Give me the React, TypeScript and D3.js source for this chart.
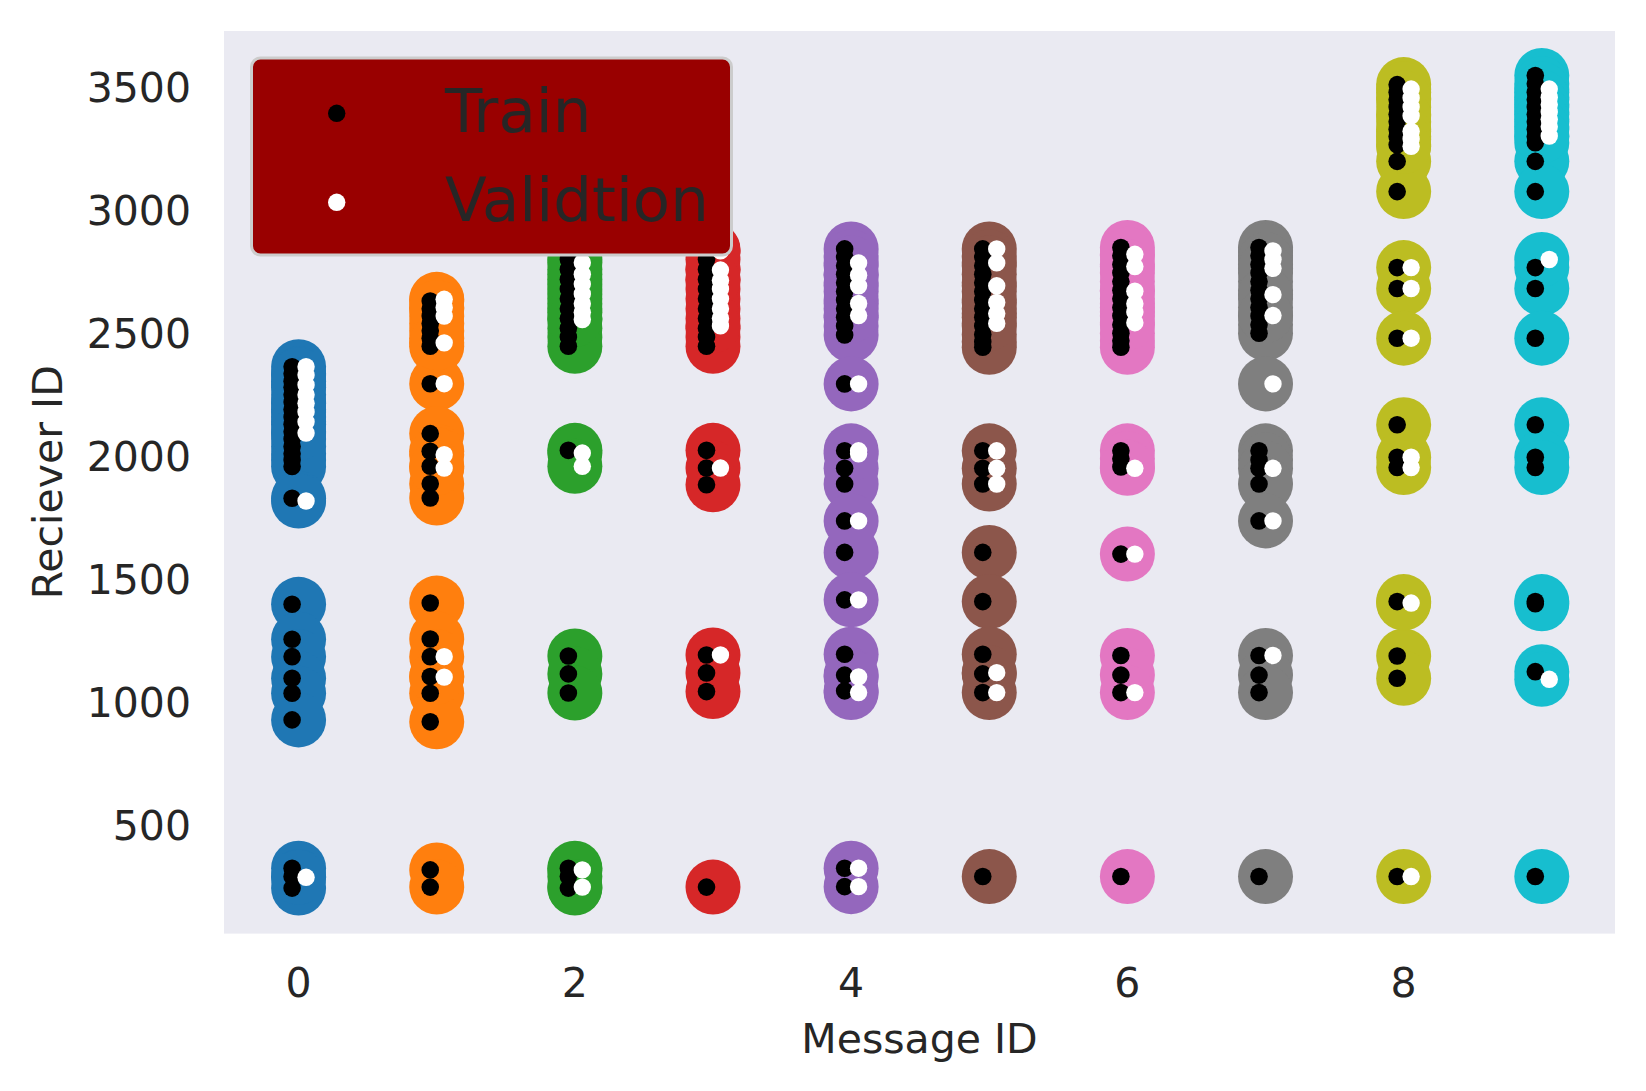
import { useEffect, useRef } from 'react';
import * as d3 from 'd3';

// Message IDs on the x axis, one colour each (matplotlib tab10)
const messageIds = [0, 1, 2, 3, 4, 5, 6, 7, 8, 9];
const colors = ['#1f77b4', '#ff7f0e', '#2ca02c', '#d62728', '#9467bd', '#8c564b', '#e377c2', '#7f7f7f', '#bcbd22', '#17becf'];
const xTicks = [0, 2, 4, 6, 8];
const yTicks = [500, 1000, 1500, 2000, 2500, 3000, 3500];

// Receiver IDs per message (train)
const train0 = [2364, 2335, 2305, 2280, 2250, 2220, 2190, 2160, 2130, 2100, 2070, 2040, 2010, 1985, 1958, 1829, 1398, 1256, 1185, 1097, 1036, 928, 325, 291, 244];
const train1 = [2631, 2600, 2570, 2540, 2510, 2480, 2447, 2295, 2092, 2020, 1959, 1888, 1830, 1403, 1257, 1185, 1104, 1036, 920, 318, 248];
const train2 = [2840, 2800, 2760, 2720, 2680, 2640, 2600, 2560, 2520, 2485, 2447, 2024, 1188, 1115, 1037, 325, 291, 244];
const train3 = [2840, 2800, 2760, 2720, 2680, 2640, 2600, 2560, 2520, 2485, 2447, 2024, 1952, 1884, 1192, 1119, 1043, 248];
const train4 = [2843, 2810, 2775, 2740, 2705, 2670, 2635, 2600, 2565, 2530, 2493, 2294, 2022, 1951, 1887, 1737, 1609, 1416, 1195, 1110, 1046, 325, 250];
const train5 = [2843, 2810, 2775, 2740, 2705, 2670, 2635, 2600, 2565, 2530, 2495, 2465, 2443, 2022, 1951, 1887, 1609, 1409, 1195, 1115, 1039, 291];
const train6 = [2849, 2815, 2780, 2745, 2710, 2675, 2640, 2605, 2570, 2535, 2500, 2470, 2443, 2022, 1990, 1956, 1602, 1190, 1110, 1039, 291];
const train7 = [2849, 2815, 2780, 2745, 2710, 2675, 2640, 2605, 2570, 2535, 2500, 2022, 1985, 1951, 1887, 1737, 1190, 1110, 1039, 291];
const train8 = [3511, 3480, 3450, 3420, 3390, 3360, 3330, 3300, 3266, 3199, 3076, 2767, 2682, 2480, 2128, 1996, 1954, 1409, 1188, 1097, 291];
const train9 = [3548, 3515, 3480, 3450, 3420, 3390, 3360, 3330, 3300, 3275, 3199, 3076, 2767, 2682, 2480, 2128, 1996, 1954, 1409, 1400, 1124, 291];

// Receiver IDs per message (validation)
const val0 = [2364, 2330, 2290, 2250, 2215, 2180, 2140, 2094, 1818, 288];
const val1 = [2638, 2605, 2570, 2461, 2295, 2006, 1952, 1185, 1102];
const val2 = [2787, 2740, 2700, 2660, 2620, 2585, 2556, 2013, 1959, 318, 248];
const val3 = [2835, 2757, 2715, 2680, 2640, 2600, 2560, 2530, 1952, 1192];
const val4 = [2786, 2736, 2693, 2621, 2572, 2294, 2022, 2010, 1737, 1416, 1103, 1039, 325, 250];
const val5 = [2843, 2786, 2693, 2625, 2580, 2540, 2022, 1951, 1887, 1120, 1039];
const val6 = [2821, 2771, 2671, 2620, 2586, 2543, 1951, 1602, 1039];
const val7 = [2835, 2800, 2764, 2657, 2572, 2294, 1951, 1737, 1190];
const val8 = [3493, 3457, 3420, 3384, 3321, 3290, 3260, 2767, 2682, 2480, 1996, 1954, 1403, 291];
const val9 = [3493, 3460, 3430, 3400, 3370, 3340, 3302, 2800, 1093];

const trainByMsg = [train0, train1, train2, train3, train4, train5, train6, train7, train8, train9];
const valByMsg = [val0, val1, val2, val3, val4, val5, val6, val7, val8, val9];

const legendLabels = ['Train', 'Validtion'];

export default function App() {
  const svgRef = useRef(null);
  const width = 1646;
  const height = 1091;

  useEffect(() => {
    const svg = d3.select(svgRef.current);
    svg.selectAll('*').remove();

    const font = 'DejaVu Sans, sans-serif';
    const textColor = '#262626';

    const x = d3.scaleLinear().domain([-0.54, 9.53]).range([224, 1615]);
    const y = d3.scaleLinear().domain([59, 3729]).range([933.6, 31]);

    // plot background
    svg.append('rect')
      .attr('x', x.range()[0])
      .attr('y', y.range()[1])
      .attr('width', x.range()[1] - x.range()[0])
      .attr('height', y.range()[0] - y.range()[1])
      .attr('fill', '#eaeaf2');

    const allPts = messageIds.flatMap(m =>
      Array.from(new Set([...trainByMsg[m], ...valByMsg[m]])).map(v => ({ m, v }))
    );
    const trainPts = messageIds.flatMap(m => trainByMsg[m].map(v => ({ m, v })));
    const valPts = messageIds.flatMap(m => valByMsg[m].map(v => ({ m, v })));

    const plot = svg.append('g');

    // big coloured markers
    plot.selectAll('.big')
      .data(allPts)
      .enter()
      .append('circle')
      .attr('cx', d => x(d.m))
      .attr('cy', d => y(d.v))
      .attr('r', 27.5)
      .attr('fill', d => colors[d.m]);

    // train dots
    plot.selectAll('.tr')
      .data(trainPts)
      .enter()
      .append('circle')
      .attr('cx', d => x(d.m - 0.047))
      .attr('cy', d => y(d.v))
      .attr('r', 8.8)
      .attr('fill', '#000');

    // validation dots
    plot.selectAll('.va')
      .data(valPts)
      .enter()
      .append('circle')
      .attr('cx', d => x(d.m + 0.054))
      .attr('cy', d => y(d.v))
      .attr('r', 8.7)
      .attr('fill', '#fff');

    // y tick labels
    svg.append('g')
      .selectAll('text')
      .data(yTicks)
      .enter()
      .append('text')
      .attr('x', 191)
      .attr('y', d => y(d) + 15)
      .attr('text-anchor', 'end')
      .attr('font-family', font)
      .attr('font-size', 41)
      .attr('fill', textColor)
      .text(d => d);

    // x tick labels
    svg.append('g')
      .selectAll('text')
      .data(xTicks)
      .enter()
      .append('text')
      .attr('x', d => x(d))
      .attr('y', 997)
      .attr('text-anchor', 'middle')
      .attr('font-family', font)
      .attr('font-size', 41)
      .attr('fill', textColor)
      .text(d => d);

    // axis titles
    svg.append('text')
      .attr('x', (x.range()[0] + x.range()[1]) / 2)
      .attr('y', 1053)
      .attr('text-anchor', 'middle')
      .attr('font-family', font)
      .attr('font-size', 41)
      .attr('fill', textColor)
      .text('Message ID');

    svg.append('text')
      .attr('transform', `translate(62,${(y.range()[0] + y.range()[1]) / 2}) rotate(-90)`)
      .attr('text-anchor', 'middle')
      .attr('font-family', font)
      .attr('font-size', 41)
      .attr('fill', textColor)
      .text('Reciever ID');

    // legend
    const legend = svg.append('g');
    legend.append('rect')
      .attr('x', 251.5)
      .attr('y', 58)
      .attr('width', 480)
      .attr('height', 197)
      .attr('rx', 9)
      .attr('fill', '#990000')
      .attr('stroke', '#cccccc')
      .attr('stroke-width', 3);

    const legendFill = ['#000', '#fff'];
    legendLabels.forEach((label, i) => {
      const cy = 113.3 + i * 89;
      legend.append('circle')
        .attr('cx', 336.7)
        .attr('cy', cy)
        .attr('r', 8.7)
        .attr('fill', legendFill[i]);
      legend.append('text')
        .attr('x', 445)
        .attr('y', cy + 18.5)
        .attr('font-family', font)
        .attr('font-size', 61)
        .attr('fill', textColor)
        .text(label);
    });
  }, []);

  return (
    <svg
      ref={svgRef}
      width={width}
      height={height}
      style={{ position: 'absolute', left: 0, top: 0, display: 'block', background: '#fff' }}
    />
  );
}
